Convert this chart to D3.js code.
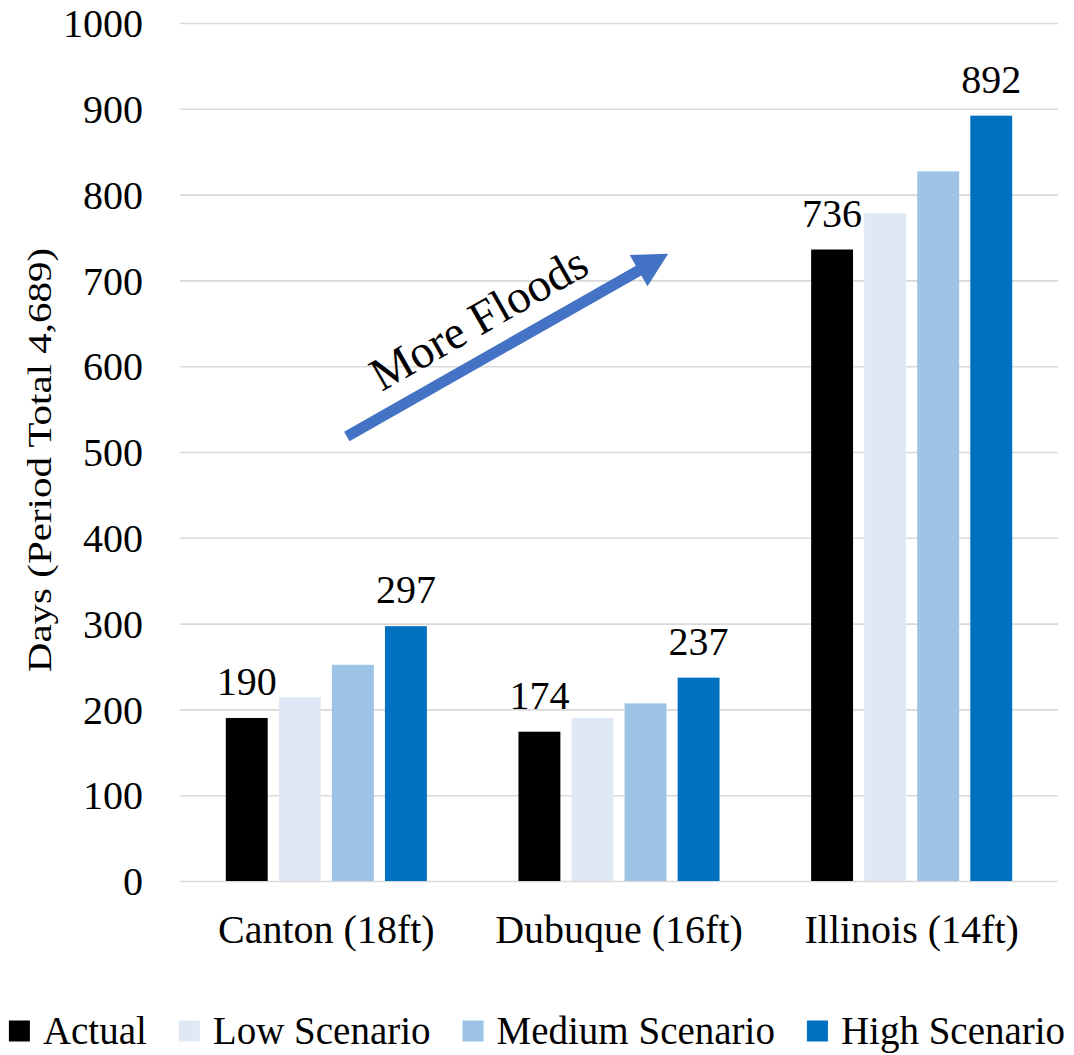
<!DOCTYPE html>
<html>
<head>
<meta charset="utf-8">
<script src="https://cdn.jsdelivr.net/npm/d3@7/dist/d3.min.js"></script>
<style>
  html, body { margin: 0; padding: 0; background: #ffffff; }
  svg { display: block; }
  text { font-family: "Liberation Serif", "Times New Roman", serif; fill: #000000; }
</style>
</head>
<body>
<svg id="chart" width="1074" height="1055"></svg>
<script>
// Flood-stage exceedance days per gauge and scenario
const categories = ["Canton (18ft)", "Dubuque (16ft)", "Illinois (14ft)"];
const seriesNames = ["Actual", "Low Scenario", "Medium Scenario", "High Scenario"];
const actualValues = [190, 174, 736];
const lowValues = [214, 190, 778];
const mediumValues = [252, 207, 827];
const highValues = [297, 237, 892];
const seriesColors = ["#000000", "#DEE9F5", "#9DC3E6", "#0070C0"];
const labelledSeries = ["Actual", "High Scenario"];
const yTicks = [0, 100, 200, 300, 400, 500, 600, 700, 800, 900, 1000];
const yTitle = "Days (Period Total 4,689)";
const arrowText = "More Floods";
// Arrow annotation: start/end given as (fraction of plot width, value)
const arrowFrom = [0.19, 518];
const arrowTo = [0.556, 731];

const valuesBySeries = [actualValues, lowValues, mediumValues, highValues];
const rows = categories.map((c, i) => ({
  category: c,
  bars: seriesNames.map((s, j) => ({ series: s, value: valuesBySeries[j][i], color: seriesColors[j] }))
}));

const svg = d3.select("#chart");
const plot = { left: 180, right: 1058, top: 23, bottom: 881 };
const fontSize = 40;

const y = d3.scaleLinear().domain([0, 1000]).range([plot.bottom, plot.top]);
const x0 = d3.scaleBand().domain(categories).range([plot.left, plot.right])
  .paddingInner(0.313).paddingOuter(0.1565);
const x1 = d3.scaleBand().domain(seriesNames).range([0, x0.bandwidth()])
  .paddingInner(0.21).paddingOuter(0);
const xf = d3.scaleLinear().domain([0, 1]).range([plot.left, plot.right]);

// Gridlines and tick labels
const yAxis = d3.axisLeft(y).tickValues(yTicks).tickFormat(d3.format("d"))
  .tickSize(-(plot.right - plot.left)).tickPadding(37);
const gy = svg.append("g").attr("transform", `translate(${plot.left},0)`).call(yAxis);
gy.select(".domain").remove();
gy.selectAll(".tick line").attr("stroke", "#D9D9D9").attr("stroke-width", 1.6);
gy.selectAll(".tick text")
  .style("font-family", '"Liberation Serif", "Times New Roman", serif')
  .style("font-size", fontSize + "px")
  .attr("fill", "#000").attr("dy", "0.34em");

// Bars
const groups = svg.append("g").selectAll("g").data(rows).join("g")
  .attr("transform", d => `translate(${x0(d.category)},0)`);
groups.selectAll("rect").data(d => d.bars).join("rect")
  .attr("x", d => x1(d.series))
  .attr("width", x1.bandwidth())
  .attr("y", d => y(d.value))
  .attr("height", d => y(0) - y(d.value))
  .attr("fill", d => d.color);

// Value labels on Actual and High bars
groups.selectAll("text.val").data(d => d.bars.filter(b => labelledSeries.includes(b.series))).join("text")
  .attr("class", "val")
  .attr("x", d => x1(d.series) + x1.bandwidth() / 2)
  .attr("y", d => y(d.value) - 23)
  .attr("text-anchor", "middle")
  .style("font-size", fontSize + "px")
  .text(d => d.value);

// Category axis labels
svg.append("g").selectAll("text").data(categories).join("text")
  .attr("x", d => x0(d) + x0.bandwidth() / 2)
  .attr("y", 943)
  .attr("text-anchor", "middle")
  .style("font-size", fontSize + "px")
  .text(d => d);

// Y axis title (condensed)
svg.append("text")
  .attr("transform", `translate(51,${(plot.top + plot.bottom) / 2 + 8}) scale(0.8,1) rotate(-90)`)
  .attr("text-anchor", "middle")
  .style("font-size", "41px")
  .text(yTitle);

// "More Floods" arrow
const ax0 = xf(arrowFrom[0]), ay0 = y(arrowFrom[1]);
const ax1 = xf(arrowTo[0]), ay1 = y(arrowTo[1]);
const len = Math.hypot(ax1 - ax0, ay1 - ay0);
const ang = Math.atan2(ay1 - ay0, ax1 - ax0) * 180 / Math.PI;
const shaftHalf = 5.5, headLen = 34, headHalf = 18;
const arrow = svg.append("g").attr("transform", `translate(${ax0},${ay0}) rotate(${ang})`);
arrow.append("path")
  .attr("d", d3.line()([
    [0, -shaftHalf], [len - headLen, -shaftHalf], [len - headLen, -headHalf], [len, 0],
    [len - headLen, headHalf], [len - headLen, shaftHalf], [0, shaftHalf]
  ]) + "Z")
  .attr("fill", "#4472C4");
arrow.append("text")
  .attr("x", len / 2 - 12)
  .attr("y", -38)
  .attr("dy", "0.35em")
  .attr("text-anchor", "middle")
  .style("font-size", "47px")
  .text(arrowText);

// Legend
const legend = svg.append("g");
const legendFont = 39, sq = 21, gapText = 13, gapItem = 32;
let cursor = 0;
seriesNames.forEach((name, i) => {
  const item = legend.append("g").attr("transform", `translate(${cursor},0)`);
  item.append("rect").attr("x", 0).attr("y", -sq / 2).attr("width", sq).attr("height", sq)
    .attr("fill", seriesColors[i]);
  const t = item.append("text").attr("x", sq + gapText).attr("y", 0).attr("dy", "0.34em")
    .style("font-size", legendFont + "px").text(name);
  cursor += sq + gapText + t.node().getComputedTextLength() + gapItem;
});
const legendWidth = cursor - gapItem;
legend.attr("transform", `translate(${(1074 - legendWidth) / 2},1031)`);
</script>
</body>
</html>
